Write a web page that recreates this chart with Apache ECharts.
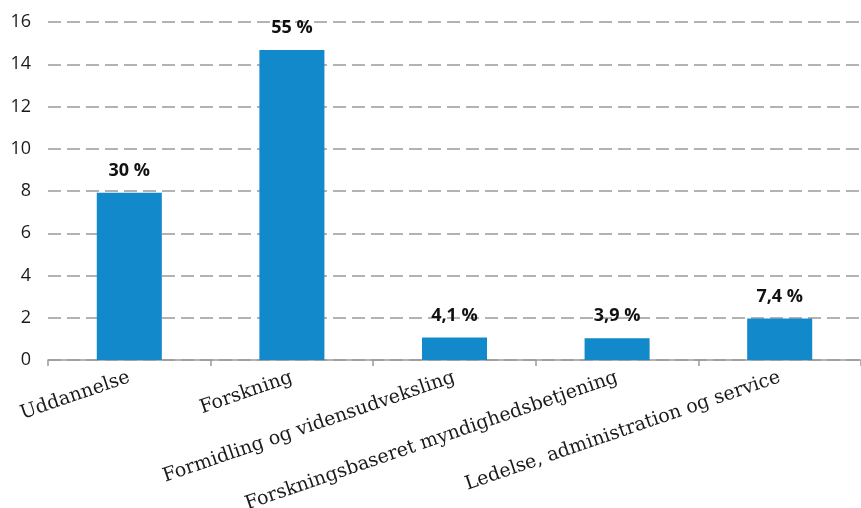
<!DOCTYPE html>
<html>
<head>
<meta charset="utf-8">
<script src="https://cdn.jsdelivr.net/npm/echarts@6/dist/echarts.min.js"></script>
<style>
  html, body { margin: 0; padding: 0; background: #fff; }
  #chart { width: 861px; height: 508px; }
</style>
</head>
<body>
<div id="chart"></div>
<script>
// categories and values
const categories = [
  'Uddannelse',
  'Forskning',
  'Formidling og vidensudveksling',
  'Forskningsbaseret myndighedsbetjening',
  'Ledelse, administration og service',
];
const values = [7.92, 14.67, 1.07, 1.03, 1.96];
const shareLabels = ['30 %', '55 %', '4,1 %', '3,9 %', '7,4 %'];
const yTicks = { min: 0, max: 16, interval: 2 };

const chart = echarts.init(document.getElementById('chart'), null, { renderer: 'canvas' });

chart.setOption({
  animation: false,
  backgroundColor: '#ffffff',
  grid: { left: 48, right: 0, top: 22, bottom: 148, outerBoundsMode: 'none', containLabel: false },
  xAxis: {
    type: 'category',
    data: categories,
    axisLine: { lineStyle: { color: '#9a9a9a', width: 1.5 } },
    axisTick: { show: true, length: 6, lineStyle: { color: '#9a9a9a', width: 1.5 } },
    axisLabel: {
      interval: 0,
      rotate: 19,
      margin: 17,
      color: '#1a1a1a',
      fontFamily: 'DejaVu Serif',
      fontSize: 19,
    },
  },
  yAxis: {
    type: 'value',
    min: yTicks.min,
    max: yTicks.max,
    interval: yTicks.interval,
    axisLine: { show: false },
    axisTick: { show: false },
    axisLabel: {
      margin: 17,
      color: '#1a1a1a',
      fontFamily: 'Open Sans',
      fontSize: 18,
    },
    splitLine: {
      lineStyle: { color: '#b3b3b3', width: 2, type: [13, 6] },
    },
  },
  series: [
    {
      type: 'bar',
      data: values,
      barWidth: '40%',
      itemStyle: { color: '#1289cb' },
      label: {
        show: true,
        position: 'top',
        distance: 13,
        color: '#111',
        fontFamily: 'Open Sans',
        fontWeight: 'bold',
        fontSize: 18,
        formatter: (p) => shareLabels[p.dataIndex],
      },
    },
  ],
});
</script>
</body>
</html>
